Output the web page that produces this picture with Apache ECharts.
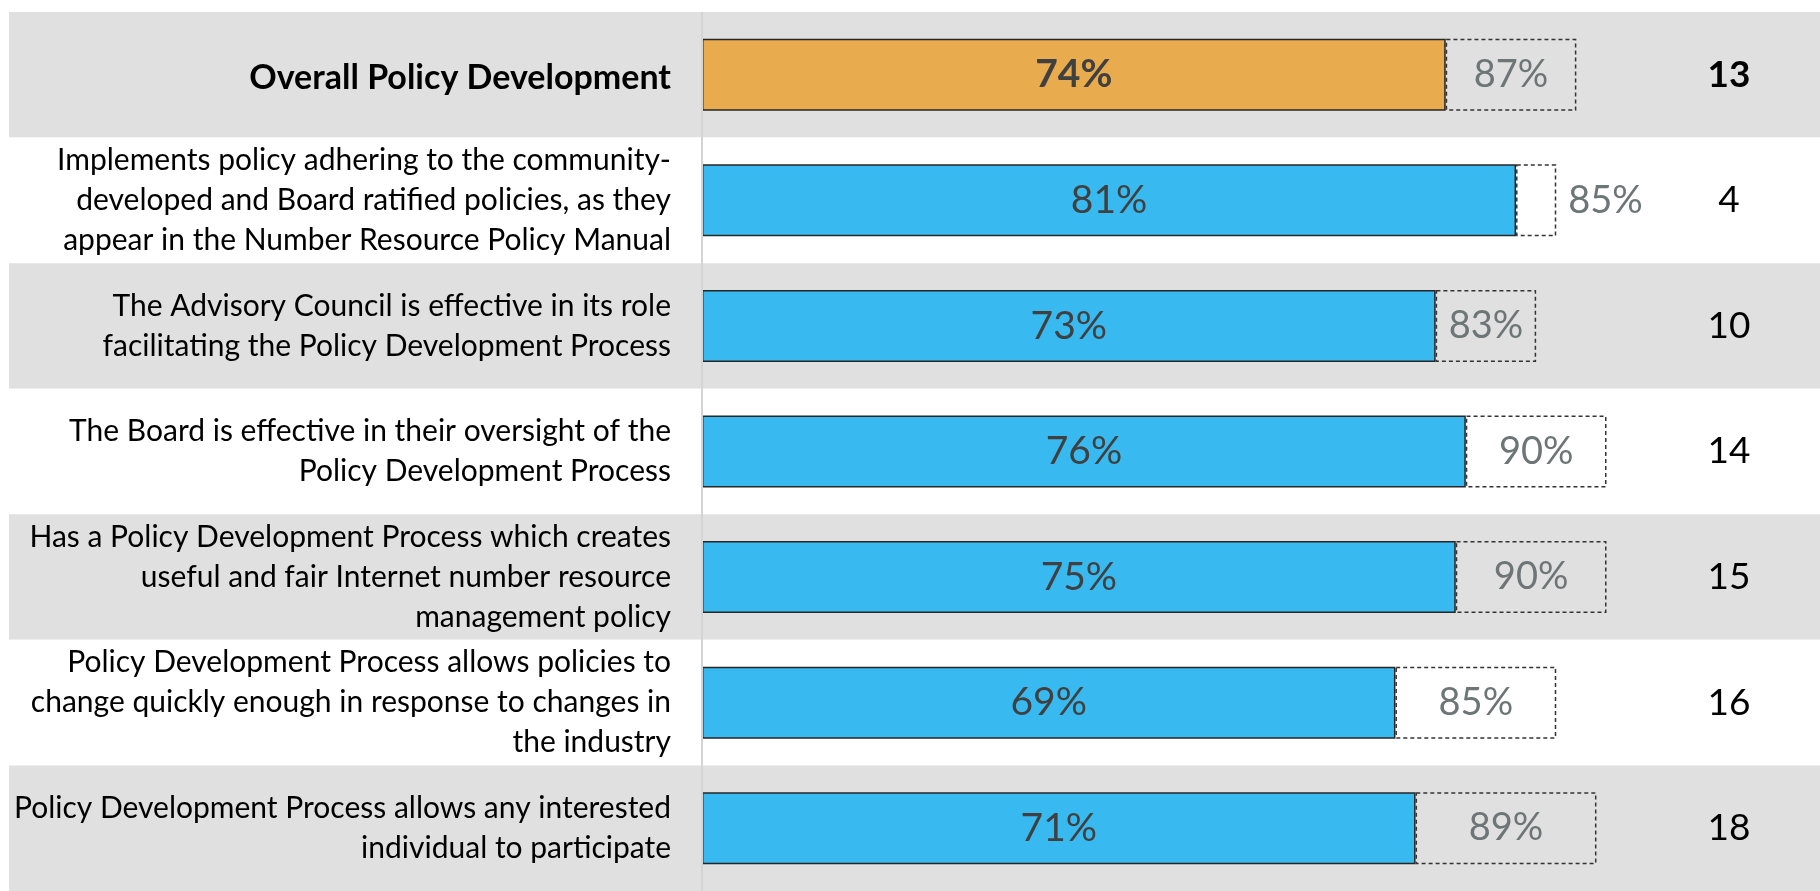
<!DOCTYPE html>
<html>
<head>
<meta charset="utf-8">
<title>Policy Development</title>
<script src="https://cdn.jsdelivr.net/npm/echarts@6/dist/echarts.min.js"></script>
<style>
  html, body { margin: 0; padding: 0; background: #fff; }
  #chart { width: 1820px; height: 891px; }
</style>
</head>
<body>
<div id="chart"></div>
<script>
// data
var categories = [
  'Overall Policy Development',
  'Implements policy adhering to the community-\ndeveloped and Board ratified policies, as they\nappear in the Number Resource Policy Manual',
  'The Advisory Council is effective in its role\nfacilitating the Policy Development Process',
  'The Board is effective in their oversight of the\nPolicy Development Process',
  'Has a Policy Development Process which creates\nuseful and fair Internet number resource\nmanagement policy',
  'Policy Development Process allows policies to\nchange quickly enough in response to changes in\nthe industry',
  'Policy Development Process allows any interested\nindividual to participate'
];
var scores = [74, 81, 73, 76, 75, 69, 71];
var targets = [87, 85, 83, 90, 90, 85, 89];
var counts = ['13', '4', '10', '14', '15', '16', '18'];

// layout: where 0% and 100% sit on the page
var bandLeft = 9, chartWidth = 1820, zeroX = 702, pxPerPct = 10.05;
var axisMin = -(zeroX - bandLeft) / pxPerPct;
var axisMax = (chartWidth - zeroX) / pxPerPct;

var font = 'Lato, "Open Sans", sans-serif';

var chart = echarts.init(document.getElementById('chart'));

chart.setOption({
  animation: false,
  grid: { left: bandLeft, right: 0, top: 12, bottom: 0, containLabel: false },
  xAxis: { type: 'value', min: axisMin, max: axisMax, show: false },
  yAxis: [{
    type: 'category',
    data: categories,
    inverse: true,
    position: 'left',
    axisLine: { show: false },
    axisTick: { show: false },
    splitArea: { show: true, areaStyle: { color: ['#e0e0e0', '#ffffff'] } },
    axisLabel: {
      inside: true,
      margin: 662,
      align: 'right',
      fontFamily: font,
      fontSize: 30,
      lineHeight: 40,
      color: '#000',
      formatter: function (v, i) {
        return i === 0 ? '{b|' + v + '}' : v;
      },
      rich: {
        b: { fontFamily: font, fontSize: 34, fontWeight: 'bold', color: '#000', padding: [6, 0, 0, 0] }
      }
    }
  }, {
    type: 'category',
    data: counts,
    inverse: true,
    position: 'right',
    axisLine: { show: false },
    axisTick: { show: false },
    axisLabel: {
      inside: true,
      margin: 91,
      align: 'center',
      fontFamily: font,
      fontSize: 37,
      color: '#000',
      formatter: function (v, i) {
        return i === 0 ? '{b|' + v + '}' : v;
      },
      rich: {
        b: { fontFamily: font, fontSize: 37, fontWeight: 'bold', color: '#000' }
      }
    }
  }],
  series: [{
    name: 'Score',
    type: 'bar',
    stack: 'a',
    barWidth: 72,
    data: scores.map(function (v, i) {
      return {
        value: v,
        itemStyle: { color: i === 0 ? '#e8ab4e' : '#38baf1' },
        label: { fontWeight: i === 0 ? 'bold' : 'normal' }
      };
    }),
    itemStyle: { borderColor: '#262626', borderWidth: 1.5 },
    label: {
      show: true,
      position: 'inside',
      formatter: '{c}%',
      fontFamily: font,
      fontSize: 39,
      color: '#404040'
    },
    markLine: {
      silent: true,
      symbol: 'none',
      label: { show: false },
      lineStyle: { color: '#d4d4d4', width: 2, type: 'solid' },
      data: [{ xAxis: 0 }]
    }
  }, {
    name: 'Target',
    type: 'bar',
    stack: 'a',
    barWidth: 72,
    data: scores.map(function (v, i) {
      var gap = targets[i] - v;
      return {
        value: gap,
        label: gap < 8 ? { position: 'right', distance: 12 } : { position: 'inside' }
      };
    }),
    itemStyle: {
      color: 'rgba(0,0,0,0)',
      borderColor: '#333',
      borderWidth: 1.5,
      borderType: [4, 3]
    },
    label: {
      show: true,
      fontFamily: font,
      fontSize: 38,
      color: '#6e7576',
      formatter: function (p) { return targets[p.dataIndex] + '%'; }
    }
  }]
});
</script>
</body>
</html>
